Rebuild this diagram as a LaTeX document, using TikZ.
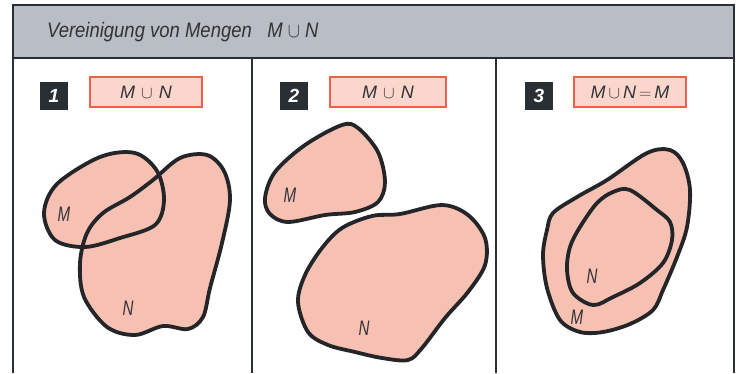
\documentclass[tikz,border=0pt]{standalone}
\usepackage{fontspec}
\setmainfont{Liberation Sans}
\begin{document}
\begin{tikzpicture}[x=1pt,y=-1pt,
  frameline/.style={draw=frame,line width=1.6pt},
  setfill/.style={fill=setpink},
  setline/.style={draw=setdark,line width=3.8pt,line join=round},
  setlabel/.style={font=\itshape\fontsize{21}{21}\selectfont,text=labgray,xscale=0.72},
  numbox/.style={fill=frame,text=white,minimum width=28pt,minimum height=28pt,inner sep=0pt,font=\bfseries\itshape\fontsize{19}{19}\selectfont},
  redbox/.style={draw=redline,fill=redfill,line width=1.8pt,minimum height=30pt,inner sep=0pt,text=labgray,font=\itshape\fontsize{18}{18}\selectfont}]
\definecolor{frame}{RGB}{42,47,52}
\definecolor{headgray}{RGB}{184,190,196}
\definecolor{setpink}{RGB}{246,192,178}
\definecolor{setdark}{RGB}{35,37,40}
\definecolor{labgray}{RGB}{50,50,55}
\definecolor{redline}{RGB}{240,95,75}
\definecolor{redfill}{RGB}{251,214,204}
\useasboundingbox (0,0) rectangle (736,373);
\fill[white] (0,0) rectangle (736,373);
% frame
\fill[headgray] (13,5) rectangle (734,58);
\draw[frameline] (13,373) -- (13,5) -- (734,5) -- (734,373);
\draw[frameline] (13,58) -- (734,58);
\draw[frameline] (252,58) -- (252,373);
\draw[frameline] (496,58) -- (496,373);
\node[anchor=base west,text=labgray,font=\itshape\fontsize{21}{21}\selectfont,xscale=0.88] (title) at (44,37) {Vereinigung von Mengen\ \ \ M $\cup$ N};
% panel headers
\node[numbox] (n1) at (54,96) {1};
\node[redbox,minimum width=112pt] (b1) at (146,92) {M\,\,$\cup$\,\,N};
\node[numbox] (n2) at (294,96) {2};
\node[redbox,minimum width=116pt] (b2) at (388,92) {M\,\,$\cup$\,\,N};
\node[numbox] (n3) at (539,96) {3};
\node[redbox,minimum width=112pt] (b3) at (630,92) {M\,$\cup$\,N\,$=$\,M};
% panel 1
\def\MoneP{(44,213) (57,184) (100,157) (135,153) (157,171) (164,200) (155,225) (120,238) (85,247) (55,240)}
\def\NoneP{(153,180) (180,158) (207,155) (224,171) (230,200) (222,243) (210,288) (203,317) (188,329) (163,326) (135,335) (107,327) (84,297) (80,263) (87,233) (103,213) (130,197)}
\fill[setpink] plot[smooth cycle,tension=0.55] coordinates {\MoneP};
\fill[setpink] plot[smooth cycle,tension=0.55] coordinates {\NoneP};
\draw[setline] plot[smooth cycle,tension=0.55] coordinates {\MoneP};
\draw[setline] plot[smooth cycle,tension=0.55] coordinates {\NoneP};
\node[setlabel] (m1) at (64,214) {M};
\node[setlabel] (l1) at (128,308) {N};
% panel 2
\def\MtwoP{(265,198) (275,172) (305,145) (342,125) (358,128) (378,152) (385,182) (378,202) (355,212) (325,215) (288,222) (270,214)}
\def\NtwoP{(298,302) (305,275) (322,248) (342,228) (372,216) (400,214) (442,205) (468,215) (485,238) (485,265) (468,292) (445,318) (422,348) (408,360) (382,358) (355,352) (328,345) (308,332)}
\filldraw[setfill,setline] plot[smooth cycle,tension=0.55] coordinates {\MtwoP};
\filldraw[setfill,setline] plot[smooth cycle,tension=0.55] coordinates {\NtwoP};
\node[setlabel] (m2) at (290,195) {M};
\node[setlabel] (l2) at (364,328) {N};
% panel 3
\def\MthreeP{(547,230) (553,213) (577,197) (607,180) (647,153) (670,150) (683,163) (690,190) (687,227) (677,257) (663,290) (653,310) (630,324) (603,332) (580,332) (560,320) (547,288) (543,255)}
\def\NthreeP{(613,192) (630,190) (657,210) (670,222) (672,240) (663,263) (640,283) (613,297) (593,305) (573,293) (567,270) (570,247) (580,227) (597,203)}
\filldraw[setfill,setline] plot[smooth cycle,tension=0.55] coordinates {\MthreeP};
\filldraw[setfill,setline] plot[smooth cycle,tension=0.55] coordinates {\NthreeP};
\node[setlabel] (m3) at (577,317) {M};
\node[setlabel] (l3) at (592,276) {N};
\end{tikzpicture}
\end{document}
